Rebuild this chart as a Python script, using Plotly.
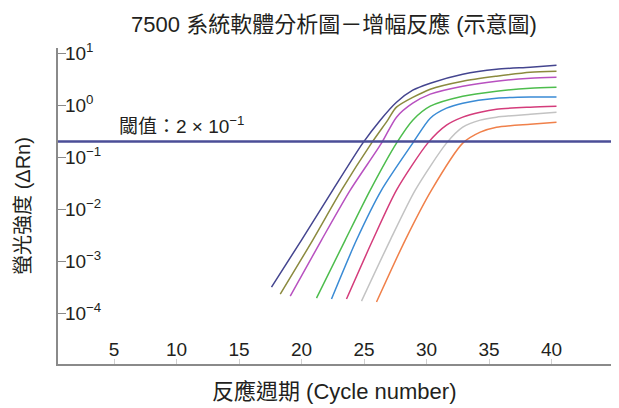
import plotly.graph_objects as go

# ---- data (cycle, ΔRn) ----
cyc_1 = [17.6, 20.0, 22.5, 24.9, 26.3, 27.6, 28.9, 30.3, 32.9, 35.6, 38.3, 40.4]
val_1 = [3.16e-4, 2.54e-3, 0.0232, 0.186, 0.515, 1.14, 1.94, 2.65, 3.94, 4.92, 5.38, 5.88]

cyc_2 = [18.3, 20.9, 23.2, 25.6, 26.9, 27.6, 30.3, 32.9, 35.6, 38.3, 40.4]
val_2 = [2.32e-4, 2.54e-3, 0.0232, 0.186, 0.515, 0.915, 2.03, 2.90, 3.61, 4.31, 4.51]

cyc_3 = [19.1, 21.6, 23.9, 26.4, 27.6, 28.9, 30.3, 32.9, 35.6, 38.3, 40.4]
val_3 = [2.12e-4, 2.54e-3, 0.0232, 0.186, 0.588, 1.09, 1.63, 2.32, 2.90, 3.30, 3.45]

cyc_4 = [21.2, 23.5, 25.5, 27.6, 28.9, 30.3, 32.9, 35.6, 38.3, 40.4]
val_4 = [1.94e-4, 2.54e-3, 0.0232, 0.186, 0.515, 0.957, 1.49, 1.86, 2.12, 2.22]

cyc_5 = [22.4, 24.4, 26.4, 28.9, 30.3, 31.6, 32.9, 35.6, 38.3, 40.4]
val_5 = [1.86e-4, 2.54e-3, 0.0232, 0.186, 0.562, 0.875, 1.09, 1.36, 1.43, 1.43]

cyc_6 = [23.6, 25.7, 27.6, 30.1, 31.6, 32.9, 34.3, 35.6, 38.3, 40.4]
val_6 = [1.86e-4, 2.54e-3, 0.0232, 0.186, 0.412, 0.588, 0.733, 0.837, 0.915, 0.957]

cyc_7 = [24.8, 27.1, 29.1, 31.6, 32.9, 34.3, 35.6, 38.3, 40.4]
val_7 = [1.70e-4, 2.54e-3, 0.0232, 0.186, 0.377, 0.515, 0.588, 0.671, 0.733]

cyc_8 = [26.0, 28.3, 30.4, 32.9, 34.3, 35.6, 38.3, 40.4]
val_8 = [1.63e-4, 2.54e-3, 0.0232, 0.186, 0.303, 0.377, 0.431, 0.471]

threshold = 0.2
x_ticks = [5, 10, 15, 20, 25, 30, 35, 40]
y_ticks = [1e-4, 1e-3, 1e-2, 1e-1, 1e0, 1e1]
y_tick_text = ["10<sup>−4</sup>", "10<sup>−3</sup>", "10<sup>−2</sup>",
               "10<sup>−1</sup>", "10<sup>0</sup>", "10<sup>1</sup>"]

title_text = "7500 系統軟體分析圖－增幅反應 (示意圖)"
x_title = "反應週期 (Cycle number)"
y_title = "螢光強度 (ΔRn)"
thr_label = "閾值：2 × 10<sup>−1</sup>"

series = [
    (cyc_1, val_1, "#44458f"),
    (cyc_2, val_2, "#8b8a3e"),
    (cyc_3, val_3, "#b851c0"),
    (cyc_4, val_4, "#4dbd4d"),
    (cyc_5, val_5, "#3a8bd5"),
    (cyc_6, val_6, "#d43c7b"),
    (cyc_7, val_7, "#c3c3c3"),
    (cyc_8, val_8, "#f0804a"),
]

FONT = "Liberation Sans, Arial, Noto Sans CJK TC, sans-serif"
TXT = "#231f20"

fig = go.Figure()
for cx, cv, col in series:
    fig.add_trace(go.Scatter(x=cx, y=cv, mode="lines",
                             line=dict(color=col, width=1.5, shape="spline", smoothing=0.7),
                             showlegend=False, hoverinfo="skip"))

fig.add_trace(go.Scatter(x=[0.5, 45.4], y=[threshold, threshold], mode="lines",
                         line=dict(color="#4b4e97", width=2.6),
                         showlegend=False, hoverinfo="skip"))

# threshold label (log axis: annotation y is given as log10 of the value)
fig.add_annotation(x=5.2, y=-0.38, xref="x", yref="y", text=thr_label,
                   showarrow=False, xanchor="left", yanchor="middle",
                   font=dict(family=FONT, size=19, color=TXT))

# x-axis title
fig.add_annotation(x=0.492, y=-0.0886, xref="paper", yref="paper",
                   text=x_title, showarrow=False, xanchor="center", yanchor="middle",
                   font=dict(family=FONT, size=22, color=TXT))

fig.update_layout(
    width=619, height=408,
    margin=dict(l=50, r=8, t=40, b=52),
    paper_bgcolor="white", plot_bgcolor="white",
    font=dict(family=FONT, color=TXT, size=18),
    title=dict(text=title_text, x=326 / 619, xref="container", xanchor="center",
               y=1 - 16 / 408, yref="container", yanchor="middle",
               font=dict(family=FONT, size=22, color=TXT)),
    xaxis=dict(range=[0.52, 45.4], showgrid=False, zeroline=False, automargin=False,
               showline=True, linecolor="#8a8a8a", linewidth=1.5,
               tickmode="array", tickvals=x_ticks, ticks="inside", ticklen=5,
               tickcolor="#d0d0d0", ticklabelposition="inside",
               ticklabeloverflow="allow",
               tickfont=dict(family=FONT, size=19, color=TXT)),
    yaxis=dict(type="log", range=[-4.98, 1.1], showgrid=False, zeroline=False,
               automargin=False,
               showline=True, linecolor="#8a8a8a", linewidth=1.5,
               tickmode="array", tickvals=y_ticks, ticktext=y_tick_text,
               ticks="inside", ticklen=8, tickcolor="#8a8a8a",
               ticklabelposition="inside", ticklabeloverflow="allow",
               tickfont=dict(family=FONT, size=19, color=TXT),
               title=dict(text=y_title, standoff=29,
                          font=dict(family=FONT, size=20, color=TXT))),
)

fig.write_html("out.html")
